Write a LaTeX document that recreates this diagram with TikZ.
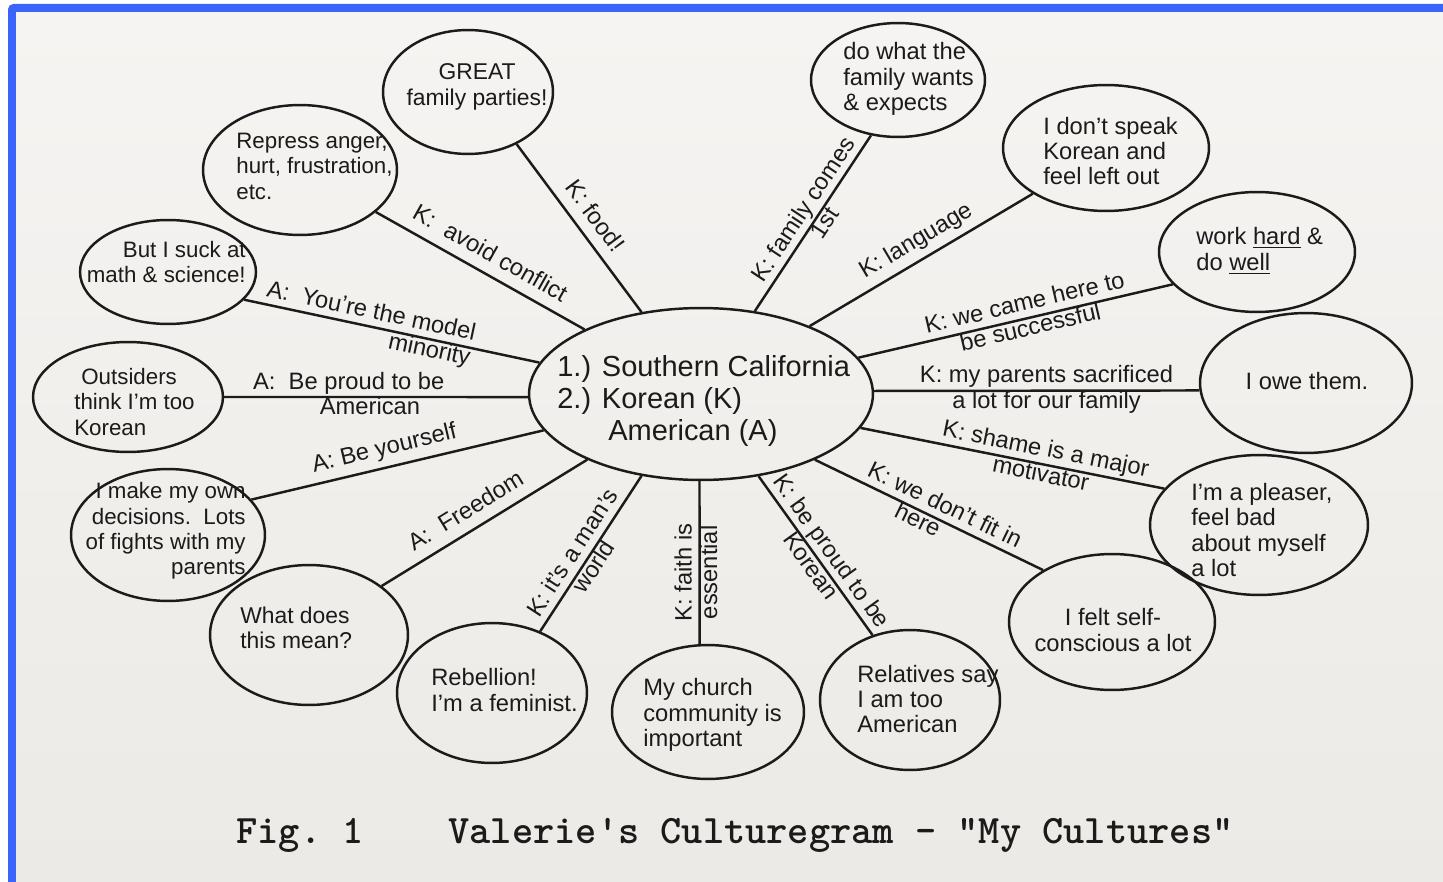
\documentclass[tikz,border=0pt]{standalone}
\usepackage{fontspec}
\setmainfont{Liberation Sans}
\usetikzlibrary{shapes.geometric}
\definecolor{ink}{RGB}{28,26,26}
\definecolor{paperA}{RGB}{245,244,242}
\definecolor{paperB}{RGB}{236,234,230}
\definecolor{frameblue}{RGB}{58,100,250}
\begin{document}
\begin{tikzpicture}[x=0.02cm,y=-0.02cm,
  ell/.style 2 args={ellipse, draw=ink, line width=1.4pt, inner sep=0pt,
    minimum width=#1*0.04cm, minimum height=#2*0.04cm},
  txt/.style={font=\fontsize{13.5}{14.5}\selectfont, text=ink, inner sep=0pt},
  txts/.style={font=\fontsize{12.7}{14.5}\selectfont, text=ink, inner sep=0pt},
  ctxt/.style={font=\fontsize{16.5}{18.4}\selectfont, text=ink, inner sep=0pt, align=left},
  spoke/.style={draw=ink, line width=1.4pt},
  lbl/.style={font=\fontsize{13.5}{14.5}\selectfont, text=ink, inner sep=0pt, sloped,
    align=center, execute at begin node=\strut, execute at end node=\strut},
  captxt/.style={font=\fontsize{23}{25}\selectfont\ttfamily\bfseries, text=ink, inner sep=0pt}
]
\useasboundingbox (0,0) rectangle (1443,882);
\clip (0,0) rectangle (1443,882);
\fill[white] (0,0) rectangle (1443,882);
\fill[frameblue, rounded corners=3pt] (8,4) rectangle (1470,910);
\shade[top color=paperA, bottom color=paperB] (16,13) rectangle (1443,882);

% ellipses
\node[ell={172}{86}] (c) at (701,394) {};
\node[ell={85}{62}] (great) at (468,92) {};
\node[ell={97}{65}] (repress) at (300,170) {};
\node[ell={88}{52}] (suck) at (168,272) {};
\node[ell={95}{55}] (outs) at (128,397) {};
\node[ell={97}{66}] (own) at (168,535) {};
\node[ell={99}{70}] (what) at (309,635) {};
\node[ell={95}{70}] (rebel) at (492,693) {};
\node[ell={96}{67}] (church) at (708,712) {};
\node[ell={90}{70}] (rel) at (910,700) {};
\node[ell={103}{68}] (felt) at (1112,622) {};
\node[ell={109}{70}] (pleaser) at (1259,525) {};
\node[ell={106}{70}] (owe) at (1306,383) {};
\node[ell={98}{60}] (work) at (1257,252) {};
\node[ell={103}{63}] (speak) at (1106,148) {};
\node[ell={87}{57}] (dowhat) at (898,80) {};

% texts
\node[ctxt, anchor=west] (ct) at (557,401) {1.) Southern California\\2.) Korean (K)\\\hspace{29pt}American (A)};
\node[txt, font=\fontsize{13}{14.5}\selectfont, align=center] (tgreat) at (477,87) {GREAT\\family parties!};
\node[txts, align=left, anchor=west] (trepress) at (236,166) {Repress anger,\\hurt, frustration,\\etc.};
\node[txts, align=right, anchor=east] (tsuck) at (246,262) {But I suck at\\math \& science!};
\node[txts, align=left, anchor=west] (touts) at (74,402) {\hspace{4pt}Outsiders\\think I'm too\\Korean};
\node[txts, align=right, anchor=east] (town) at (246,531) {I make my own\\decisions.\ \ Lots\\of fights with my\\parents};
\node[txt, font=\fontsize{13}{14.5}\selectfont, align=left, anchor=west] (twhat) at (240,628) {What does\\this mean?};
\node[txt, align=left, anchor=west] (trebel) at (431,690) {Rebellion!\\I'm a feminist.};
\node[txt, align=left, anchor=west] (tchurch) at (643,715) {My church\\community is\\important};
\node[txt, align=left, anchor=west] (trel) at (857,699) {Relatives say\\I am too\\American};
\node[txt, align=center] (tfelt) at (1113,630) {I felt self-\\conscious a lot};
\node[txt, align=left, anchor=west] (tpleaser) at (1191,530) {I'm a pleaser,\\feel bad\\about myself\\a lot};
\node[txt] (towe) at (1307,381) {I owe them.};
\node[txt, align=left, anchor=west] (twork) at (1196,251) {work \underline{hard} \&\\do \underline{well}};
\node[txt, align=left, anchor=west] (tspeak) at (1043,151) {I don't speak\\Korean and\\feel left out};
\node[txt, align=left, anchor=west] (tdowhat) at (843,79) {do what the\\family wants\\\& expects};

% spokes
\draw[spoke] (great.-47) -- (c.126) node[lbl, above=2pt, pos=.5] {K: food!};
\draw[spoke] (repress.-29) -- (c.151) node[lbl, above=2pt, pos=.5] {K:\ \ avoid conflict};
\draw[spoke] (suck.-20) -- (c.169) node[lbl, align=right, pos=.42] {A:\ \ You're the model\\minority};
\draw[spoke] (outs.0) -- (c.181) node[lbl, align=left, pos=.41] {A:\ \ Be proud to be\\\hspace{38pt}American};
\draw[spoke] (own.23) -- (c.193) node[lbl, above=2pt, pos=.47] {A: Be yourself};
\draw[spoke] (what.34) -- (c.210) node[lbl, above=2pt, pos=.46] {A:\ \ Freedom};
\draw[spoke] (rebel.52) -- (c.234) node[lbl, pos=.45] {K: it's a man's\\world};
\draw[spoke] (church.97) -- (c.269) node[lbl, allow upside down, pos=.44] {K: faith is\\essential};
\draw[spoke] (c.305) -- (rel.120) node[lbl, pos=.53] {K: be proud to be\\Korean};
\draw[spoke] (c.330) -- (felt.143) node[lbl, align=left, pos=.54] {K: we don't fit in\\\hspace{24pt}here};
\draw[spoke] (c.348) -- (pleaser.159) node[lbl, pos=.6] {K: shame is a major\\motivator};
\draw[spoke] (c.1) -- (owe.184) node[lbl, pos=.53] {K: my parents sacrificed\\a lot for our family};
\draw[spoke] (c.13) -- (work.201) node[lbl, pos=.54] {K: we came here to\\be successful};
\draw[spoke] (c.32) -- (speak.212) node[lbl, above=2pt, pos=.52] {K: language};
\draw[spoke] (c.57) -- (dowhat.244) node[lbl, pos=.53] {K: family comes\\1st};

% caption
\node[captxt, anchor=west] (cap) at (236,835) {Fig.~1~~~~Valerie's Culturegram - "My Cultures"};
\end{tikzpicture}
\end{document}
